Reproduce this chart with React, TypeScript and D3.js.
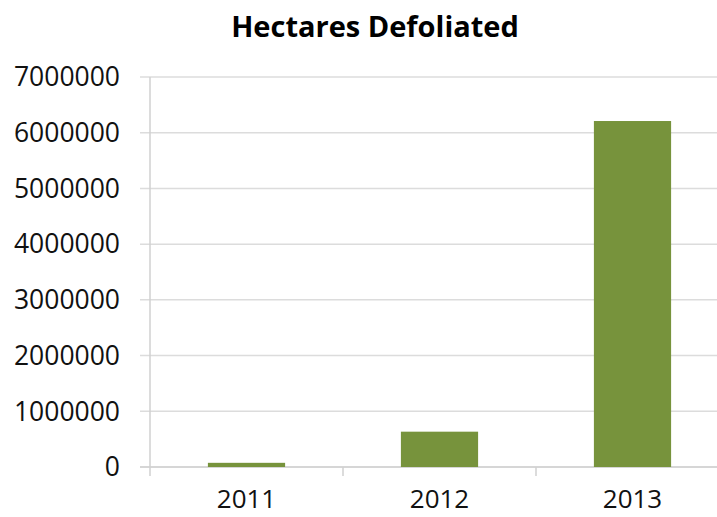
import React from "react";
import * as d3 from "d3";

const categories = ["2011", "2012", "2013"];
const values = [75000, 634000, 6210000];
const yTicks = [0, 1000000, 2000000, 3000000, 4000000, 5000000, 6000000, 7000000];
const title = "Hectares Defoliated";

export default function App() {
  const W = 717, H = 517;
  const x = d3.scaleBand<string>().domain(categories).range([150, 729]).paddingInner(0.6).paddingOuter(0.3);
  const y = d3.scaleLinear().domain([0, 7000000]).range([467, 77]);
  const font = "'Open Sans', sans-serif";
  const step = x.step();
  return (
    <svg width={W} height={H} style={{ position: "absolute", left: 0, top: 0 }}>
      <rect width={W} height={H} fill="#fff" />
      <text x={375} y={37} textAnchor="middle" fontFamily={font} fontWeight="bold" fontSize={29} fill="#000">{title}</text>
      {yTicks.map((t) => (
        <g key={t}>
          <line x1={140} x2={W} y1={y(t)} y2={y(t)} stroke={t === 0 ? "#c8c8c8" : "#dcdcdc"} strokeWidth={1.5} />
          <text x={120} y={y(t)} dy="0.35em" textAnchor="end" fontFamily={font} fontSize={26.5} fill="#111">{t}</text>
        </g>
      ))}
      <line x1={150} x2={150} y1={77} y2={476} stroke="#d0d0d0" strokeWidth={1.5} />
      {categories.map((c, i) => (
        <line key={"t" + c} x1={150 + step * (i + 1)} x2={150 + step * (i + 1)} y1={467} y2={476} stroke="#d0d0d0" strokeWidth={1.5} />
      ))}
      {categories.map((c, i) => (
        <rect key={c} x={x(c)} y={y(values[i])} width={x.bandwidth()} height={y(0) - y(values[i])} fill="#77933c" />
      ))}
      {categories.map((c) => (
        <text key={"l" + c} x={(x(c) as number) + x.bandwidth() / 2} y={508} textAnchor="middle" fontFamily={font} fontSize={26} fill="#111">{c}</text>
      ))}
    </svg>
  );
}
